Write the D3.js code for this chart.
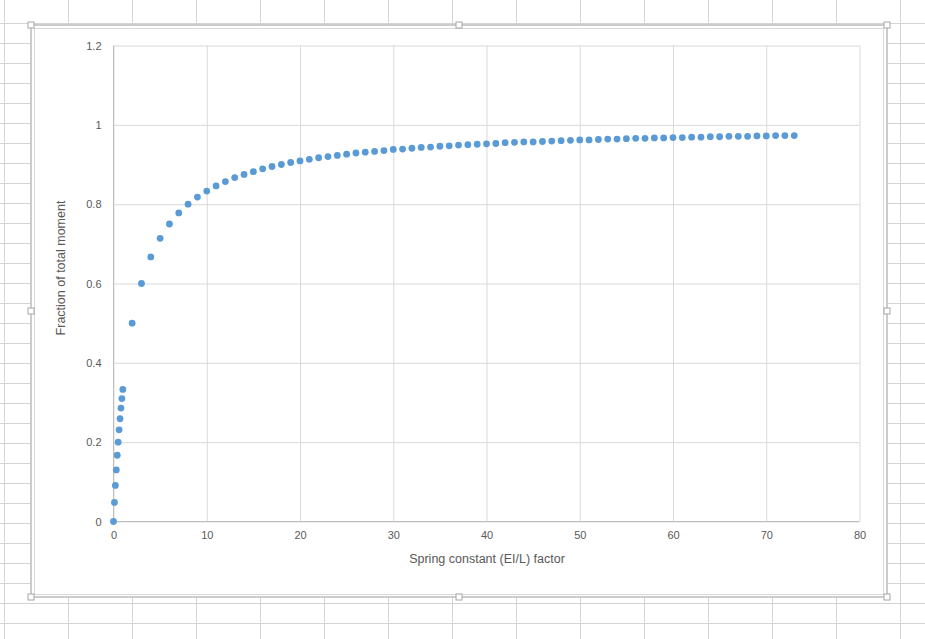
<!DOCTYPE html>
<html><head><meta charset="utf-8">
<script src="https://cdn.jsdelivr.net/npm/d3@7/dist/d3.min.js"></script>
<style>html,body{margin:0;padding:0;background:#fff;}svg{display:block;}</style>
</head><body>
<script>
const xValues = [0,0.1,0.2,0.3,0.4,0.5,0.6,0.7,0.8,0.9,1,
 2,3,4,5,6,7,8,9,10,11,12,13,14,15,16,17,18,19,20,21,22,23,24,25,26,27,28,29,30,
 31,32,33,34,35,36,37,38,39,40,41,42,43,44,45,46,47,48,49,50,51,52,53,54,55,56,57,58,59,60,
 61,62,63,64,65,66,67,68,69,70,71,72,73];
const yValues = [0,0.048,0.091,0.130,0.167,0.200,0.231,0.259,0.286,0.310,0.333,
 0.500,0.600,0.667,0.714,0.750,0.778,0.800,0.818,0.833,0.846,0.857,0.867,0.875,0.882,0.889,0.895,0.900,0.905,0.909,
 0.913,0.917,0.920,0.923,0.926,0.929,0.931,0.933,0.935,0.938,
 0.939,0.941,0.943,0.944,0.946,0.947,0.949,0.950,0.951,0.952,0.953,0.955,0.956,0.957,0.957,0.958,0.959,0.960,0.961,0.962,
 0.962,0.963,0.964,0.964,0.965,0.966,0.966,0.967,0.967,0.968,
 0.968,0.969,0.969,0.970,0.970,0.971,0.971,0.971,0.972,0.972,0.973,0.973,0.973];
const xTicks = [0,10,20,30,40,50,60,70,80];
const yTicks = [0,0.2,0.4,0.6,0.8,1,1.2];
const xTitle = "Spring constant (EI/L) factor";
const yTitle = "Fraction of total moment";

const W = 925, H = 639;
const svg = d3.select("body").append("svg").attr("width", W).attr("height", H);
const font = "'Liberation Sans', Arial, sans-serif";

// spreadsheet grid
const bg = svg.append("g");
for (let x = 4.5; x < W; x += 64) bg.append("line").attr("x1", x).attr("x2", x).attr("y1", 0).attr("y2", H).attr("stroke", "#d4d4d4");
for (let y = 23.5; y < H; y += 20) bg.append("line").attr("x1", 0).attr("x2", W).attr("y1", y).attr("y2", y).attr("stroke", "#d4d4d4");

// chart object frame
svg.append("rect").attr("x", 31).attr("y", 25).attr("width", 856).attr("height", 572)
  .attr("fill", "#fff").attr("stroke", "#bcbcbc").attr("stroke-width", 1.5);
svg.append("rect").attr("x", 34.5).attr("y", 28.5).attr("width", 849).attr("height", 566)
  .attr("fill", "#fff").attr("stroke", "#d9d9d9").attr("stroke-width", 1);
const handles = [[31,25],[459,25],[887,25],[31,311],[887,311],[31,597],[459,597],[887,597]];
svg.selectAll("rect.h").data(handles).enter().append("rect").attr("class","h")
  .attr("x", d => d[0]-3).attr("y", d => d[1]-3).attr("width", 6).attr("height", 6)
  .attr("fill", "#fff").attr("stroke", "#a6a6a6").attr("stroke-width", 1);

// scales
const x = d3.scaleLinear().domain([0, 80]).range([113.5, 859.5]);
const y = d3.scaleLinear().domain([0, 1.2]).range([521.5, 45.5]);

// gridlines
const g = svg.append("g");
g.append("g")
  .call(d3.axisLeft(y).tickValues(yTicks).tickSize(-(x.range()[1]-x.range()[0])).tickFormat(""))
  .attr("transform", `translate(${x.range()[0]},0)`)
  .call(s => { s.select(".domain").remove(); s.selectAll("line").attr("stroke", "#d9d9d9"); });
g.append("g").attr("transform", `translate(0,${y.range()[0]})`)
  .call(d3.axisBottom(x).tickValues(xTicks).tickSize(-(y.range()[0]-y.range()[1])).tickFormat(""))
  .call(s => { s.select(".domain").remove(); s.selectAll("line").attr("stroke", "#d9d9d9"); });

// axis lines
g.append("line").attr("x1", x(0)).attr("x2", x(80)).attr("y1", y(0)).attr("y2", y(0)).attr("stroke", "#bfbfbf");
g.append("line").attr("x1", x(0)).attr("x2", x(0)).attr("y1", y(0)).attr("y2", y(1.2)).attr("stroke", "#bfbfbf");

// tick labels
const yAx = svg.append("g").attr("transform", `translate(${x(0)},0)`)
  .call(d3.axisLeft(y).tickValues(yTicks).tickSize(0).tickPadding(12).tickFormat(d => String(d)));
yAx.select(".domain").remove();
yAx.selectAll("text").attr("font-family", font).attr("font-size", 11).attr("fill", "#595959");
const xAx = svg.append("g").attr("transform", `translate(0,${y(0)})`)
  .call(d3.axisBottom(x).tickValues(xTicks).tickSize(0).tickPadding(10).tickFormat(d => String(d)));
xAx.select(".domain").remove();
xAx.selectAll("text").attr("font-family", font).attr("font-size", 11).attr("fill", "#595959");

// axis titles
svg.append("text").attr("x", 487).attr("y", 562.5).attr("text-anchor", "middle")
  .attr("font-family", font).attr("font-size", 12.5).attr("fill", "#595959").text(xTitle);
svg.append("text").attr("transform", "translate(65,268) rotate(-90)").attr("text-anchor", "middle")
  .attr("font-family", font).attr("font-size", 12.5).attr("fill", "#595959").text(yTitle);

// points
const pts = xValues.map((v, i) => [v, yValues[i]]);
svg.append("g").selectAll("circle").data(pts).enter().append("circle")
  .attr("cx", d => x(d[0])).attr("cy", d => y(d[1])).attr("r", 3.4).attr("fill", "#5b9bd5");
</script>
</body></html>
